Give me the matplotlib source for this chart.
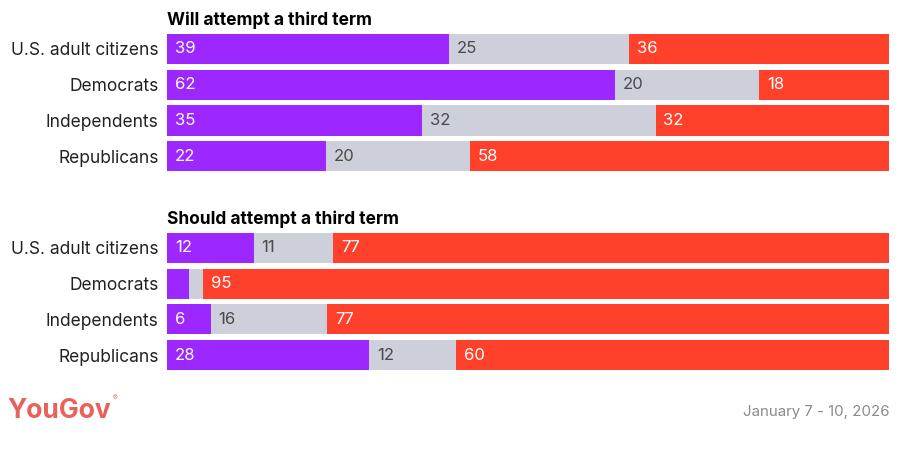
import matplotlib.pyplot as plt

plt.rcParams['font.family'] = ['Inter', 'DejaVu Sans']

groups = ['U.S. adult citizens', 'Democrats', 'Independents', 'Republicans']
titles = ['Will attempt a third term', 'Should attempt a third term']
yes_vals = [[39, 62, 35, 22], [12, 3, 6, 28]]
unsure_vals = [[25, 20, 32, 20], [11, 2, 16, 12]]
no_vals = [[36, 18, 32, 58], [77, 95, 77, 60]]

purple = '#9d27ff'
grey = '#cdd0da'
red = '#ff412c'

fig = plt.figure(figsize=(9, 4.5), dpi=100)
boxes = [[0.1856, 0.613, 0.802, 0.318], [0.1856, 0.171, 0.802, 0.318]]

for k in range(2):
    ax = fig.add_axes(boxes[k])
    ys = list(range(len(groups)))
    # bars fill the row, so scale each row to its total
    totals = [a + b + c for a, b, c in zip(yes_vals[k], unsure_vals[k], no_vals[k])]
    left = [0] * len(groups)
    for vals, col, tcol in [(yes_vals[k], purple, 'white'),
                            (unsure_vals[k], grey, '#4a4a4a'),
                            (no_vals[k], red, 'white')]:
        w = [v * 100 / t for v, t in zip(vals, totals)]
        ax.barh(ys, w, left=left, color=col, height=0.84)
        for y, v, l in zip(ys, vals, left):
            if v >= 5:
                ax.text(l + 1.1, y, str(v), color=tcol, fontsize=12,
                        va='center', ha='left')
        left = [a + b for a, b in zip(left, w)]
    ax.set_xlim(0, 100)
    ax.set_ylim(3.5, -0.5)
    ax.set_yticks(ys)
    ax.set_yticklabels(groups, fontsize=12.5, color='#222222')
    ax.tick_params(length=0, pad=6)
    ax.set_xticks([])
    for s in ax.spines.values():
        s.set_visible(False)
    ax.set_title(titles[k], loc='left', fontsize=12.5, fontweight='bold',
                 pad=4, x=0.0)

fig.text(0.008, 0.087, 'YouGov', color='#e8615a', fontsize=19,
         fontweight='bold', va='center', ha='left')
fig.text(0.125, 0.116, '®', color='#e8615a', fontsize=5,
         va='center', ha='left')
fig.text(0.988, 0.085, 'January 7 - 10, 2026', color='#8a8a8a', fontsize=10.8,
         va='center', ha='right')

fig.savefig('out.png', dpi=100)
